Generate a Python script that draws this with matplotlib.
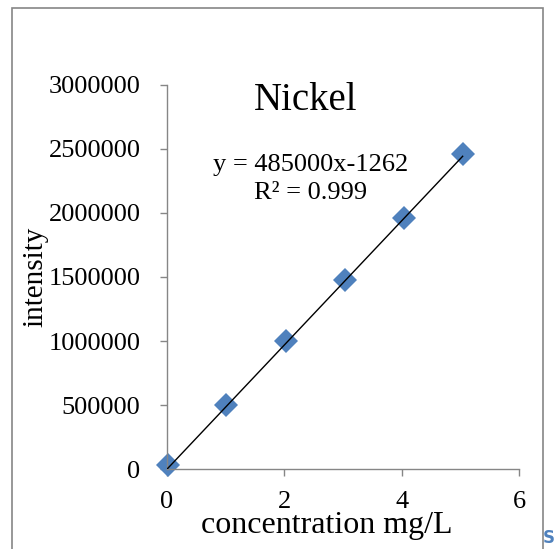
import matplotlib.pyplot as plt
from matplotlib.patches import Rectangle

# calibration data
concentration = [0.01, 1.01, 2.03, 3.04, 4.04, 5.04]
intensity = [30000, 500000, 1000000, 1475000, 1960000, 2460000]

# trendline as printed on the chart
slope = 485000
intercept = -1262
r_squared = 0.999

x_ticks = [0, 2, 4, 6]
y_ticks = [0, 500000, 1000000, 1500000, 2000000, 2500000, 3000000]

axis_grey = "#868686"
marker_blue = "#4F81BD"

plt.rcParams["font.family"] = ["Liberation Serif", "DejaVu Serif"]

fig = plt.figure(figsize=(5.55, 5.49), dpi=100)
ax = fig.add_axes([0.3009, 0.1457, 0.6342, 0.6995])

ax.plot(concentration, intensity, linestyle="none", marker="D",
        markersize=12, color=marker_blue, markeredgewidth=0, zorder=2,
        clip_on=False)

x_fit = [min(concentration), max(concentration)]
y_fit = [slope * x + intercept for x in x_fit]
ax.plot(x_fit, y_fit, color="black", linewidth=1.0, zorder=3)

ax.set_xlim(0, 6)
ax.set_ylim(0, 3000000)
ax.set_xticks(x_ticks)
ax.set_yticks(y_ticks)
ax.set_xticklabels([str(t) for t in x_ticks])
ax.set_yticklabels([str(t) for t in y_ticks])

for side in ["top", "right"]:
    ax.spines[side].set_visible(False)
for side in ["left", "bottom"]:
    ax.spines[side].set_color(axis_grey)
    ax.spines[side].set_linewidth(1.0)

ax.tick_params(axis="both", direction="out", length=5, width=1,
               color=axis_grey, labelsize=19, labelcolor="black")
ax.tick_params(axis="y", pad=14)
ax.tick_params(axis="x", pad=11)

ax.set_xlabel("concentration mg/L", fontsize=23)
ax.xaxis.set_label_coords(0.455, -0.11)
ax.set_ylabel("intensity", fontsize=21)
ax.yaxis.set_label_coords(-0.336, 0.50)

ax.text(0.395, 0.96, "Nickel", transform=ax.transAxes, fontsize=28,
        ha="center", va="center")
eq = "y = %dx-%d\nR² = %s" % (slope, -intercept, r_squared)
ax.text(0.408, 0.755, eq, transform=ax.transAxes, fontsize=19,
        ha="center", va="center", linespacing=1.38)

# outer chart frame, running off the bottom of the image
fig.patches.append(Rectangle((12 / 555, -0.05), (543 - 12) / 555, 1.05 - 8 / 549,
                             transform=fig.transFigure, fill=False,
                             edgecolor=axis_grey, linewidth=1.2))

fig.text(543 / 555, 2 / 549, "S", color=marker_blue, fontsize=12,
         fontweight="bold", family="DejaVu Sans", ha="left", va="bottom")

fig.savefig("out.png", dpi=100)
